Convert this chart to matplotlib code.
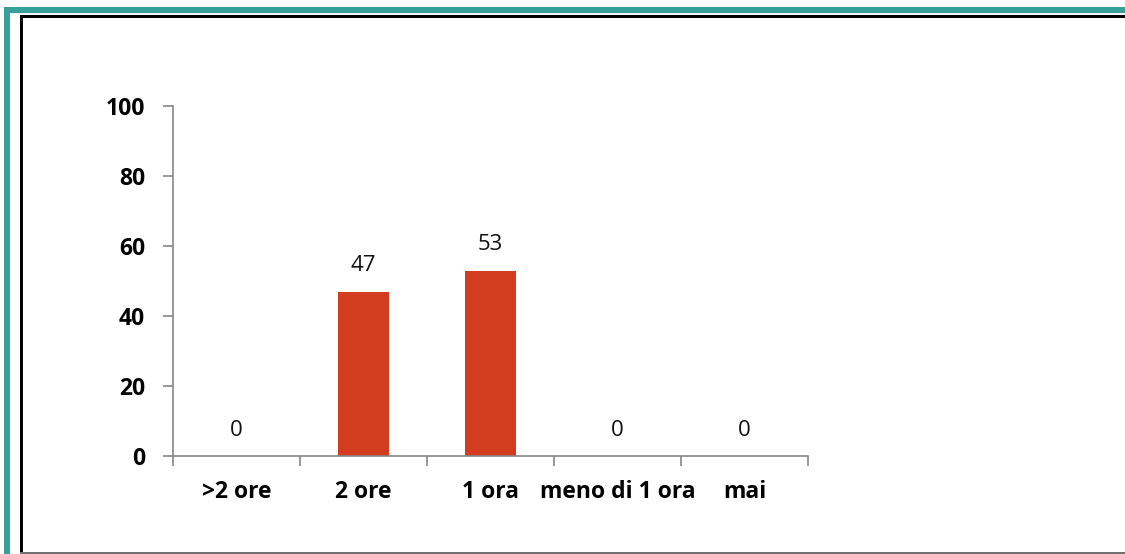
import matplotlib
matplotlib.use("Agg")
from matplotlib import pyplot as plt
from matplotlib.patches import Rectangle

categories = [">2 ore", "2 ore", "1 ora", "meno di 1 ora", "mai"]
values = [0, 47, 53, 0, 0]
yticks = [0, 20, 40, 60, 80, 100]

W, H = 1125, 554
plt.rcParams['font.family'] = ['Open Sans', 'DejaVu Sans']

fig = plt.figure(figsize=(W / 100, H / 100), dpi=100)

# frame: teal outer band + black inner border (pixel coords, y from top)
def px_rect(x0, y0, x1, y1, color):
    fig.add_artist(Rectangle((x0 / W, 1 - y1 / H), (x1 - x0) / W, (y1 - y0) / H,
                             transform=fig.transFigure, color=color, lw=0))

teal = "#37a09a"
px_rect(4, 7, W, 13, teal)
px_rect(4, 7, 10, H, teal)
px_rect(20, 15, W, 17.5, "black")
px_rect(20, 15, 22.5, H, "black")
px_rect(20, 551.5, W, 553.5, "#707070")

ax = fig.add_axes([173 / W, (H - 456) / H, (808 - 173) / W, (456 - 106) / H])
x = range(len(categories))
bars = ax.bar(x, values, width=0.4, color="#d23c1f")
for xi, v in zip(x, values):
    ax.annotate(str(v), (xi, v), xytext=(0, 11), textcoords="offset points",
                ha="center", va="bottom", fontsize=16, color="#111111")

ax.set_xlim(-0.5, len(categories) - 0.5)
ax.set_ylim(0, 100)
ax.set_yticks(yticks)
ax.set_yticklabels([str(t) for t in yticks], fontsize=16.5, fontweight="bold")
ax.set_xticks([i + 0.5 for i in range(-1, len(categories))])
ax.set_xticklabels([])
ax.set_xticks(list(x), minor=True)
ax.set_xticklabels(categories, minor=True, fontsize=16.5, fontweight="bold")
ax.tick_params(axis="x", which="major", length=7, color="#868686", width=1.2)
ax.tick_params(axis="x", which="minor", length=0, pad=17)
ax.tick_params(axis="y", length=7, color="#868686", width=1.2, pad=13)
for s in ["top", "right"]:
    ax.spines[s].set_visible(False)
for s in ["left", "bottom"]:
    ax.spines[s].set_color("#868686")
    ax.spines[s].set_linewidth(1.2)

fig.savefig("out.png", dpi=100)
